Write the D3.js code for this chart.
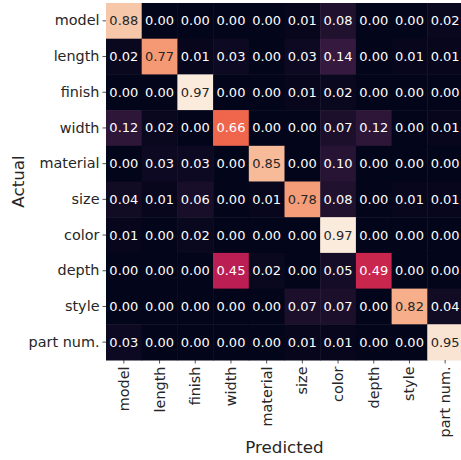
<!DOCTYPE html>
<html>
<head>
<meta charset="utf-8">
<script src="https://cdn.jsdelivr.net/npm/d3@7"></script>
<style>
  html, body { margin: 0; padding: 0; background: #fff; overflow: hidden; }
  svg { display: block; }
  text { font-family: "DejaVu Sans", sans-serif; }
</style>
</head>
<body>
<svg id="chart" width="461" height="460"></svg>
<script>
const labels = ["model", "length", "finish", "width", "material", "size", "color", "depth", "style", "part num."];
const rowModel    = [0.88, 0.00, 0.00, 0.00, 0.00, 0.01, 0.08, 0.00, 0.00, 0.02];
const rowLength   = [0.02, 0.77, 0.01, 0.03, 0.00, 0.03, 0.14, 0.00, 0.01, 0.01];
const rowFinish   = [0.00, 0.00, 0.97, 0.00, 0.00, 0.01, 0.02, 0.00, 0.00, 0.00];
const rowWidth    = [0.12, 0.02, 0.00, 0.66, 0.00, 0.00, 0.07, 0.12, 0.00, 0.01];
const rowMaterial = [0.00, 0.03, 0.03, 0.00, 0.85, 0.00, 0.10, 0.00, 0.00, 0.00];
const rowSize     = [0.04, 0.01, 0.06, 0.00, 0.01, 0.78, 0.08, 0.00, 0.01, 0.01];
const rowColor    = [0.01, 0.00, 0.02, 0.00, 0.00, 0.00, 0.97, 0.00, 0.00, 0.00];
const rowDepth    = [0.00, 0.00, 0.00, 0.45, 0.02, 0.00, 0.05, 0.49, 0.00, 0.00];
const rowStyle    = [0.00, 0.00, 0.00, 0.00, 0.00, 0.07, 0.07, 0.00, 0.82, 0.04];
const rowPartNum  = [0.03, 0.00, 0.00, 0.00, 0.00, 0.01, 0.01, 0.00, 0.00, 0.95];
const matrix = [rowModel, rowLength, rowFinish, rowWidth, rowMaterial, rowSize, rowColor, rowDepth, rowStyle, rowPartNum];

// rocket colormap anchors
const rocketStops = ["#03051a", "#35193e", "#701f57", "#ad1759", "#e13342", "#f37651", "#f6b48f", "#faebdd"];

(function () {
const svg = d3.select("#chart");
const mLeft = 106, mTop = 3, cell = 35.7;
const n = labels.length;

const x = d3.scaleBand().domain(labels).range([mLeft, mLeft + cell * n]);
const y = d3.scaleBand().domain(labels).range([mTop, mTop + cell * n]);

const vmin = d3.min(matrix.flat()), vmax = d3.max(matrix.flat());
const stopPos = rocketStops.map((c, i) => i === 0 ? 0 : (i === rocketStops.length - 1 ? 1 : i / 7));
const cmap = d3.scaleLinear().domain(stopPos).range(rocketStops).interpolate(d3.interpolateRgb).clamp(true);
const color = v => cmap((v - vmin) / (vmax - vmin));

function lum(c) {
  const rgb = d3.rgb(c);
  const f = v => { v /= 255; return v <= 0.03928 ? v / 12.92 : Math.pow((v + 0.055) / 1.055, 2.4); };
  return 0.2126 * f(rgb.r) + 0.7152 * f(rgb.g) + 0.0722 * f(rgb.b);
}

const cells = [];
matrix.forEach((row, i) => row.forEach((v, j) => cells.push({ r: labels[i], c: labels[j], v })));

const g = svg.append("g");
g.selectAll("rect").data(cells).enter().append("rect")
  .attr("x", d => x(d.c))
  .attr("y", d => y(d.r))
  .attr("width", x.bandwidth() + 0.5)
  .attr("height", y.bandwidth() + 0.5)
  .attr("fill", d => color(d.v));

g.selectAll("text.annot").data(cells).enter().append("text")
  .attr("class", "annot")
  .attr("x", d => x(d.c) + x.bandwidth() / 2)
  .attr("y", d => y(d.r) + y.bandwidth() / 2)
  .attr("text-anchor", "middle")
  .attr("dominant-baseline", "central")
  .attr("font-size", "13px")
  .attr("fill", d => lum(color(d.v)) > 0.408 ? "#262626" : "#ffffff")
  .text(d => d.v.toFixed(2));

const xAxis = d3.axisBottom(x).tickSize(3.5).tickPadding(3);
const yAxis = d3.axisLeft(y).tickSize(3.5).tickPadding(3);

const gx = svg.append("g").attr("transform", `translate(0,${mTop + cell * n})`).call(xAxis);
gx.select(".domain").remove();
gx.selectAll(".tick line").attr("stroke", "#262626").attr("stroke-width", 0.8);
gx.selectAll(".tick text")
  .attr("font-size", "14.4px")
  .attr("fill", "#262626")
  .attr("font-family", "DejaVu Sans")
  .attr("transform", "rotate(-90)")
  .attr("text-anchor", "end")
  .attr("x", -6.5)
  .attr("y", 0)
  .attr("dy", "0.35em");

const gy = svg.append("g").attr("transform", `translate(${mLeft},0)`).call(yAxis);
gy.select(".domain").remove();
gy.selectAll(".tick line").attr("stroke", "#262626").attr("stroke-width", 0.8);
gy.selectAll(".tick text")
  .attr("font-size", "14.4px")
  .attr("fill", "#262626")
  .attr("font-family", "DejaVu Sans");

svg.append("text")
  .attr("x", mLeft + cell * n / 2)
  .attr("y", 453)
  .attr("text-anchor", "middle")
  .attr("font-size", "16.7px")
  .attr("fill", "#262626")
  .text("Predicted");

svg.append("text")
  .attr("transform", `translate(24,${mTop + cell * n / 2}) rotate(-90)`)
  .attr("text-anchor", "middle")
  .attr("font-size", "16.7px")
  .attr("fill", "#262626")
  .text("Actual");
})();
</script>
</body>
</html>
